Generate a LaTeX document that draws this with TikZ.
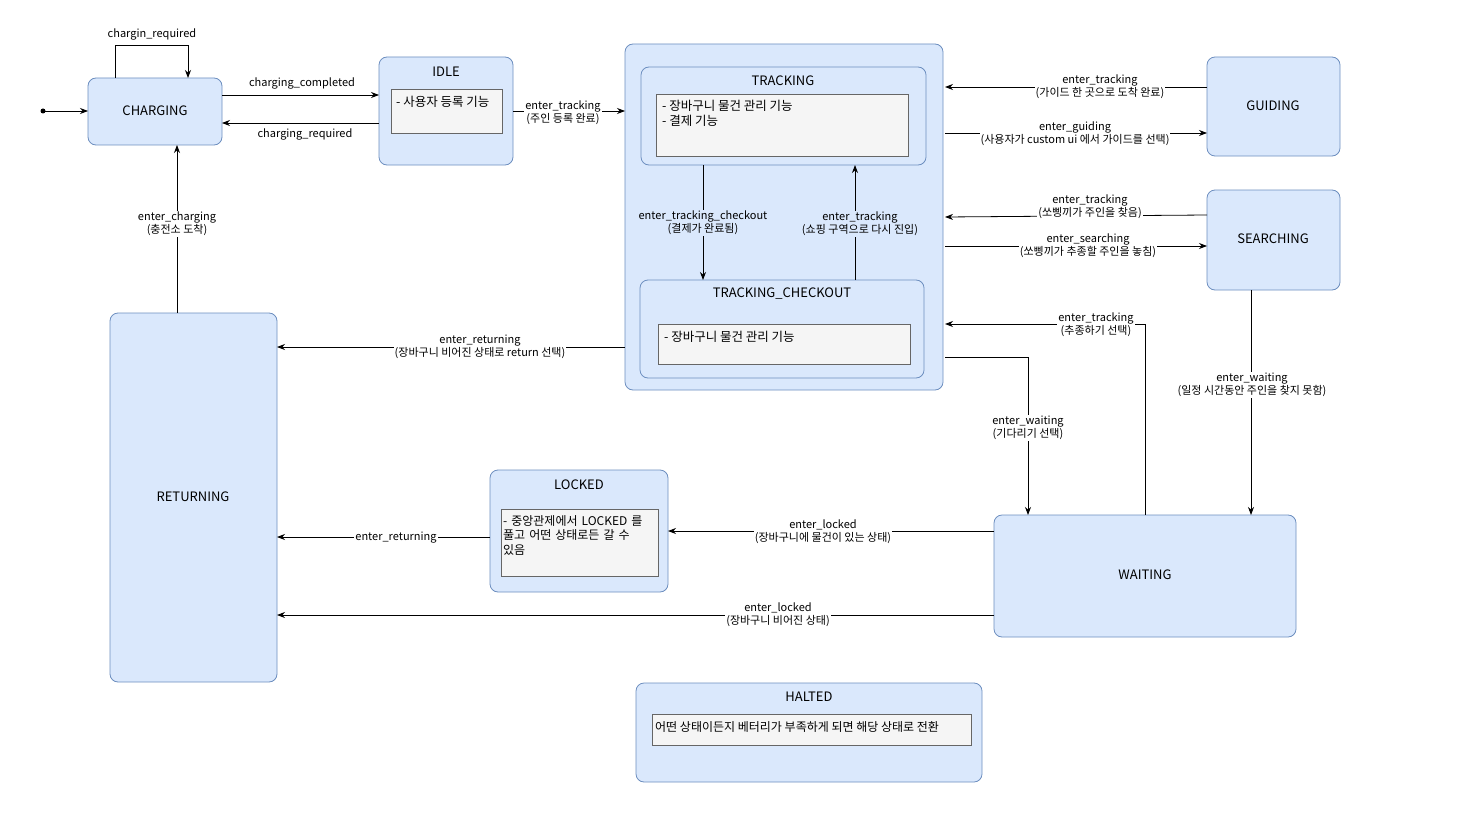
\documentclass[tikz,border=0pt]{standalone}
\usepackage{fontspec}
\setmainfont{Noto Sans CJK KR}
\usetikzlibrary{arrows.meta}
\definecolor{bfill}{HTML}{DAE8FC}
\definecolor{bline}{HTML}{6C8EBF}
\definecolor{gfill}{HTML}{F5F5F5}
\definecolor{gline}{HTML}{666666}
\begin{document}
\begin{tikzpicture}[x=1pt,y=-1pt,
  st/.style={draw=bline,fill=bfill,rounded corners=8pt,line width=0.8pt},
  ib/.style={draw=gline,fill=gfill,line width=0.8pt},
  tt/.style={font=\fontsize{13}{15}\selectfont,inner sep=0pt},
  it/.style={font=\fontsize{12.5}{15}\selectfont,anchor=north west,align=left,inner sep=0pt},
  lb/.style={font=\fontsize{11}{13}\selectfont,fill=white,align=center,inner sep=1pt},
  ar/.style={-{Stealth[length=8pt,width=6pt]},line width=0.8pt}]
\useasboundingbox (0,0) rectangle (1480,840);
% states
\draw[st] (88,78) rectangle (222,145); \node[tt] (charging) at (155,111) {CHARGING};
\draw[st] (379,57) rectangle (513,165); \node[tt] (idle) at (446,72) {IDLE};
\draw[ib] (391,89) rectangle (502,133); \node[it] (idlet) at (396,96) {- 사용자 등록 기능};
\draw[st] (625,44) rectangle (943,390);
\draw[st] (641,67) rectangle (926,165); \node[tt] (tracking) at (783,81) {TRACKING};
\draw[ib] (656,94) rectangle (908,156); \node[it] (trt) at (662,100) {- 장바구니 물건 관리 기능\\- 결제 기능};
\draw[st] (640,280) rectangle (924,378); \node[tt] (checkout) at (782,294) {TRACKING\_CHECKOUT};
\draw[ib] (658,324) rectangle (910,364); \node[it] (cot) at (664,331) {- 장바구니 물건 관리 기능};
\draw[st] (1207,57) rectangle (1340,156); \node[tt] (guiding) at (1273,106) {GUIDING};
\draw[st] (1207,190) rectangle (1340,290); \node[tt] (searching) at (1273,239) {SEARCHING};
\draw[st] (110,313) rectangle (277,682); \node[tt] (returning) at (193,497) {RETURNING};
\draw[st] (490,470) rectangle (668,592); \node[tt] (locked) at (579,485) {LOCKED};
\draw[ib] (501,509) rectangle (658,576);
\node[it,text width=148pt,font=\fontsize{12}{14.5}\selectfont] (lockt) at (503,515) {- 중앙관제에서 LOCKED 를 풀고 어떤 상태로든 갈 수 있음};
\draw[st] (994,515) rectangle (1296,637); \node[tt] (waiting) at (1145,575) {WAITING};
\draw[st] (636,683) rectangle (982,782); \node[tt] (halted) at (809,697) {HALTED};
\draw[ib] (652,714) rectangle (971,745);
\node[it,font=\fontsize{12}{14}\selectfont] (halt) at (655,721) {어떤 상태이든지 베터리가 부족하게 되면 해당 상태로 전환};
% initial
\fill (43,111) circle (2.5pt);
\coordinate (init) at (43,111);
\draw[ar] (init) -- (88,111);
% edges
\draw[ar] (115,78) -- (115,45) -- (188,45) -- (188,78);
\node[lb] (l1) at (152,34) {chargin\_required};
\draw[ar] (222,95) -- (379,95); \node[lb] (l2) at (302,83) {charging\_completed};
\draw[ar] (379,123) -- (222,123); \node[lb] (l3) at (305,134) {charging\_required};
\draw[ar] (513,111) -- (625,111); \node[lb] (l4) at (563,113) {enter\_tracking\\(주인 등록 완료)};
\draw[ar] (1207,87) -- (945,87); \node[lb] (l5) at (1100,87) {enter\_tracking\\(가이드 한 곳으로 도착 완료)};
\draw[ar] (945,133) -- (1207,133); \node[lb] (l6) at (1075,134) {enter\_guiding\\(사용자가 custom ui 에서 가이드를 선택)};
\draw[ar] (1207,215) -- (945,217); \node[lb] (l7) at (1090,207) {enter\_tracking\\(쏘삥끼가 주인을 찾음)};
\draw[ar] (945,246) -- (1207,246); \node[lb] (l8) at (1088,246) {enter\_searching\\(쏘삥끼가 추종할 주인을 놓침)};
\draw[ar] (1251,290) -- (1251,515); \node[lb] (l9) at (1252,385) {enter\_waiting\\(일정 시간동안 주인을 찾지 못함)};
\draw[ar] (1145,515) -- (1145,324) -- (945,324); \node[lb] (l10) at (1096,325) {enter\_tracking\\(추종하기 선택)};
\draw[ar] (945,357) -- (1028,357) -- (1028,515); \node[lb] (l11) at (1028,428) {enter\_waiting\\(기다리기 선택)};
\draw[ar] (703,165) -- (703,280); \node[lb,fill=bfill] (l12) at (703,223) {enter\_tracking\_checkout\\(결제가 완료됨)};
\draw[ar] (855,280) -- (855,165); \node[lb,fill=bfill] (l13) at (860,224) {enter\_tracking\\(쇼핑 구역으로 다시 진입)};
\draw[ar] (625,347) -- (277,347); \node[lb] (l14) at (480,347) {enter\_returning\\(장바구니 비어진 상태로 return 선택)};
\draw[ar] (177,313) -- (177,145); \node[lb] (l15) at (177,224) {enter\_charging\\(충전소 도착)};
\draw[ar] (994,531) -- (668,531); \node[lb] (l16) at (823,532) {enter\_locked\\(장바구니에 물건이 있는 상태)};
\draw[ar] (490,537) -- (277,537); \node[lb] (l17) at (396,538) {enter\_returning};
\draw[ar] (994,615) -- (277,615); \node[lb] (l18) at (778,615) {enter\_locked\\(장바구니 비어진 상태)};
\end{tikzpicture}
\end{document}
